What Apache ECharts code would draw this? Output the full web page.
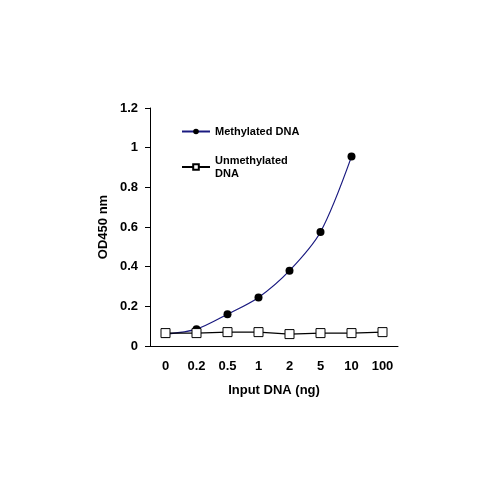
<!DOCTYPE html>
<html><head><meta charset="utf-8">
<script src="https://cdn.jsdelivr.net/npm/echarts@6/dist/echarts.min.js"></script>
<style>html,body{margin:0;background:#fff}#c{width:500px;height:500px}</style>
</head><body><div id="c"></div>
<script>
const categories = ["0","0.2","0.5","1","2","5","10","100"];
const methylated = [0.06,0.085,0.16,0.245,0.38,0.575,0.955,null];
const unmethylated = [0.065,0.065,0.07,0.07,0.06,0.065,0.065,0.07];
const font = {fontFamily:"Liberation Sans, Arial", fontWeight:"bold", fontSize:13, color:"#000"};
const chart = echarts.init(document.getElementById('c'));
chart.setOption({
  animation:false,
  grid:{left:150,right:102,top:108,bottom:154},
  legend:{orient:'vertical',left:176,top:120,itemGap:16,itemWidth:28,itemHeight:7,
    textStyle:Object.assign({},font,{fontSize:11,lineHeight:13}),
    data:['Methylated DNA','Unmethylated\nDNA']},
  xAxis:{type:'category',data:categories,boundaryGap:true,
    axisLine:{lineStyle:{color:'#000'}},axisTick:{show:false},
    axisLabel:Object.assign({},font,{margin:14}),
    name:'Input DNA (ng)',nameLocation:'middle',nameGap:38,nameTextStyle:font},
  yAxis:{type:'value',min:0,max:1.2,interval:0.2,
    axisLine:{show:true,lineStyle:{color:'#000'}},axisTick:{show:true,inside:false,lineStyle:{color:'#000'}},
    splitLine:{show:false},axisLabel:Object.assign({},font,{margin:12}),
    name:'OD450 nm',nameLocation:'middle',nameGap:40,nameRotate:90,nameTextStyle:font},
  series:[
    {name:'Methylated DNA',type:'line',data:methylated,smooth:0.3,symbol:'circle',symbolSize:8,
     lineStyle:{color:'#1a1a80',width:1.2},itemStyle:{color:'#000'}},
    {name:'Unmethylated\nDNA',type:'line',data:unmethylated,symbol:'rect',symbolSize:9,
     lineStyle:{color:'#000',width:1.2},itemStyle:{color:'#fff',borderColor:'#000',borderWidth:1}}
  ]
});
</script></body></html>
